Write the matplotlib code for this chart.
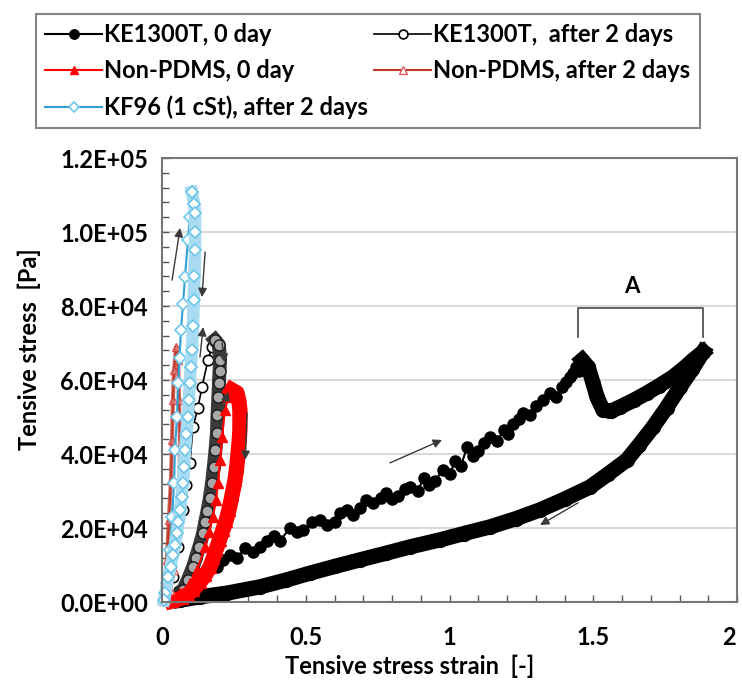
import numpy as np
import matplotlib
matplotlib.use("Agg")
import matplotlib.pyplot as plt
import matplotlib.transforms as mtransforms
from matplotlib.ticker import FuncFormatter, MultipleLocator

plt.rcParams['font.family'] = ['Lato', 'DejaVu Sans']
plt.rcParams['font.weight'] = 'bold'

# KE1300T, 0 day (strain [-], stress [kPa])
ke0_rise_x = [0.03, 0.06, 0.09, 0.12, 0.143, 0.165, 0.19, 0.212, 0.235, 0.26, 0.29, 0.315, 0.341,
              0.365, 0.39, 0.41, 0.445, 0.47, 0.49, 0.52, 0.55, 0.575, 0.60, 0.62, 0.643, 0.665,
              0.69, 0.71, 0.734, 0.76, 0.78, 0.80, 0.82, 0.845, 0.863, 0.89, 0.91, 0.93, 0.95,
              0.977, 1.00, 1.02, 1.04, 1.061, 1.08, 1.10, 1.12, 1.141, 1.165, 1.19, 1.205, 1.22,
              1.24, 1.256, 1.28, 1.30, 1.325, 1.35, 1.37, 1.39, 1.405, 1.419, 1.43, 1.44, 1.45, 1.461]
ke0_rise_y = [1.0, 3.0, 5.5, 7.0, 7.8, 10.0, 9.5, 11.4, 12.8, 12.0, 14.5, 13.5, 14.9,
              16.5, 17.8, 16.5, 20.0, 18.8, 19.5, 21.5, 22.2, 20.8, 21.5, 24.0, 24.9, 23.5,
              25.5, 27.5, 26.8, 28.0, 29.5, 27.8, 28.6, 30.5, 31.1, 30.0, 33.5, 31.5, 32.8,
              35.7, 34.5, 38.0, 36.8, 41.9, 39.5, 40.8, 43.0, 44.6, 43.5, 46.5, 45.5, 48.0,
              49.5, 51.1, 50.5, 53.0, 54.5, 56.5, 55.5, 58.0, 59.5, 60.8, 62.0, 63.5, 62.5, 65.4]
ke0_dip_x = [1.461, 1.482, 1.50, 1.513, 1.534, 1.56, 1.593, 1.64, 1.687, 1.73, 1.777, 1.82, 1.847, 1.882]
ke0_dip_y = [65.4, 63.5, 59.0, 55.4, 51.9, 51.5, 52.7, 54.5, 56.5, 58.5, 60.8, 63.5, 65.4, 67.6]
ke0_fall_x = [1.882, 1.845, 1.802, 1.755, 1.708, 1.66, 1.617, 1.55, 1.489, 1.40, 1.315, 1.23, 1.141,
              1.05, 0.967, 0.863, 0.78, 0.689, 0.60, 0.515, 0.43, 0.341, 0.226, 0.132, 0.063]
ke0_fall_y = [67.6, 63.0, 58.1, 52.5, 47.3, 42.5, 38.4, 34.5, 31.1, 27.8, 24.9, 22.5, 20.3,
              18.5, 16.8, 14.9, 13.2, 11.4, 9.6, 7.8, 5.9, 4.1, 2.4, 1.4, 0.5]

# KE1300T, after 2 days
ke2_rise_x = [0.010, 0.021, 0.038, 0.056, 0.073, 0.085, 0.097, 0.108, 0.125, 0.139, 0.160, 0.174, 0.184]
ke2_rise_y = [0.5, 1.9, 6.8, 15.0, 24.9, 31.5, 37.6, 47.3, 52.5, 58.1, 65.4, 68.9, 70.8]
ke2_fall_x = [0.184, 0.198, 0.202, 0.200, 0.198, 0.196, 0.193, 0.191, 0.186, 0.180, 0.174, 0.166,
              0.158, 0.150, 0.143, 0.130, 0.118, 0.108, 0.090, 0.073, 0.055, 0.035]
ke2_fall_y = [70.8, 69.5, 65.4, 62.5, 59.2, 55.5, 50.5, 45.7, 41.0, 36.5, 32.2, 28.0,
              24.5, 21.5, 18.6, 15.0, 12.0, 9.5, 6.0, 3.2, 1.5, 0.5]

# Non-PDMS, 0 day
np0_rise_x = [0.035, 0.063, 0.097, 0.122, 0.150, 0.165, 0.177, 0.188, 0.195, 0.202, 0.209, 0.219, 0.230, 0.243]
np0_rise_y = [0.3, 2.4, 5.1, 8.6, 14.9, 19.0, 23.0, 27.5, 32.2, 38.4, 44.6, 51.9, 55.4, 57.3]
np0_fall_x = [0.243, 0.261, 0.268, 0.271, 0.271, 0.268, 0.264, 0.260, 0.254, 0.244, 0.233, 0.223,
              0.212, 0.200, 0.188, 0.178, 0.167, 0.150, 0.132, 0.108, 0.090, 0.070, 0.035]
np0_fall_y = [57.3, 56.5, 54.0, 51.9, 46.5, 43.0, 39.7, 36.5, 33.0, 29.0, 24.9, 22.0,
              19.5, 16.8, 14.1, 11.8, 9.5, 7.2, 5.4, 3.2, 2.0, 1.1, 0.3]

# Non-PDMS, after 2 days
np2_x = [0.003, 0.010, 0.017, 0.024, 0.031, 0.035, 0.038, 0.042, 0.049,
         0.056, 0.059, 0.063, 0.059, 0.052, 0.042, 0.028, 0.014]
np2_y = [0.3, 3.2, 11.4, 22.2, 33.0, 43.8, 54.6, 62.7, 68.9,
         65.4, 54.6, 41.1, 27.6, 16.8, 8.6, 3.2, 0.5]

# KF96 (1 cSt), after 2 days
kf_rise_x = [0.007, 0.017, 0.028, 0.035, 0.042, 0.045, 0.052, 0.056, 0.061, 0.066, 0.073, 0.080,
             0.090, 0.097, 0.104]
kf_rise_y = [0.5, 5.1, 14.1, 23.0, 32.2, 41.1, 50.0, 59.2, 66.0, 73.5, 80.5, 87.8,
             97.8, 104.1, 110.8]
kf_fall_x = [0.104, 0.112, 0.115, 0.115, 0.115, 0.113, 0.110, 0.108, 0.104, 0.100, 0.097, 0.093,
             0.090, 0.085, 0.080, 0.077, 0.073, 0.068, 0.063, 0.057, 0.052, 0.045, 0.038, 0.030,
             0.021, 0.012, 0.007]
kf_fall_y = [110.8, 107.5, 105.1, 100.0, 95.1, 88.0, 81.6, 74.5, 68.1, 63.5, 59.2, 54.5,
             50.0, 45.5, 41.1, 36.5, 32.2, 28.5, 24.9, 21.5, 18.6, 15.5, 12.7, 9.5,
             6.8, 2.4, 0.5]

# arrows: (tail_x, tail_y, head_x, head_y) in data units (stress in kPa)
arrows = [(0.035, 87.0, 0.063, 101.1), (0.150, 94.6, 0.139, 82.4), (0.132, 66.2, 0.143, 74.3),
          (0.209, 70.0, 0.219, 64.6), (0.212, 51.9, 0.230, 56.8), (0.296, 51.1, 0.289, 38.4),
          (0.793, 37.6, 0.974, 43.8), (1.447, 26.8, 1.315, 20.8)]

def pa(v):
    return np.array(v) * 1000.0

fig = plt.figure(figsize=(7.42, 6.87), dpi=100)
ax = fig.add_axes([162 / 742, 1 - 602 / 687, 575 / 742, 444 / 687])

blue_line = '#2f9fd6'
blue_edge = '#6cc6ea'
dark_red = '#c0392b'

# KE1300T, 0 day
h_ke0, = ax.plot(ke0_rise_x, pa(ke0_rise_y), '-o', color='black', lw=1.5, ms=8,
                 clip_on=False, label='KE1300T, 0 day')
ax.plot(ke0_dip_x, pa(ke0_dip_y), '-o', color='black', lw=11, ms=10, clip_on=False)
ax.plot(ke0_fall_x, pa(ke0_fall_y), '-o', color='black', lw=11, ms=10, clip_on=False)

# KE1300T, after 2 days
h_ke2, = ax.plot(ke2_rise_x, pa(ke2_rise_y), '-o', color='black', mfc='white', mec='black',
                 lw=1.2, ms=7.5, mew=1.2, clip_on=False, label='KE1300T,  after 2 days')
ax.plot(ke2_fall_x, pa(ke2_fall_y), '-', color='#3a3a3a', lw=10, clip_on=False)
ax.plot(ke2_fall_x, pa(ke2_fall_y), 'o', mfc='#a8a8a8', mec='#1a1a1a', ms=8, mew=1.0, clip_on=False)

# Non-PDMS, 0 day
h_np0, = ax.plot(np0_rise_x, pa(np0_rise_y), '-^', color='red', lw=1.5, ms=7, clip_on=False,
                 label='Non-PDMS, 0 day')
ax.plot(np0_fall_x, pa(np0_fall_y), '-^', color='red', lw=11, ms=9, clip_on=False)

# Non-PDMS, after 2 days
h_np2, = ax.plot(np2_x, pa(np2_y), '-^', color=dark_red, mfc='white', mec='#e8585f', lw=1.5,
                 ms=6, mew=1.0, clip_on=False, label='Non-PDMS, after 2 days')
ax.plot(np2_x, pa(np2_y), '-', color=dark_red, lw=3, alpha=0.7, clip_on=False)

# KF96 (1 cSt), after 2 days
h_kf, = ax.plot(kf_rise_x, pa(kf_rise_y), '-D', color=blue_line, mfc='white', mec=blue_edge,
                lw=1.5, ms=6, mew=1.2, clip_on=False, label='KF96 (1 cSt), after 2 days')
ax.plot(kf_fall_x, pa(kf_fall_y), '-', color='#a9dcf2', lw=9, clip_on=False)
ax.plot(kf_fall_x, pa(kf_fall_y), 'D', mfc='white', mec=blue_edge, ms=6, mew=1.2, clip_on=False)

for tx, ty, hx, hy in arrows:
    ax.annotate('', xy=(hx, hy * 1000), xytext=(tx, ty * 1000),
                arrowprops=dict(arrowstyle='-|>', color='#3a3a3a', lw=1.0, mutation_scale=13,
                                shrinkA=0, shrinkB=0))

# bracket "A"
ax.plot([1.447, 1.447, 1.882, 1.882], [71.6e3, 79.5e3, 79.5e3, 71.6e3], color='#555555', lw=1.3)
ax.text(1.635, 82.5e3, 'A', ha='center', va='bottom', fontsize=16, fontweight='bold')

ax.set_xlim(0, 2)
ax.set_ylim(0, 1.2e5)
ax.xaxis.set_major_locator(MultipleLocator(0.5))
ax.xaxis.set_minor_locator(MultipleLocator(0.1))
ax.yaxis.set_major_locator(MultipleLocator(2e4))
ax.yaxis.set_minor_locator(MultipleLocator(4e3))
ax.xaxis.set_major_formatter(FuncFormatter(lambda v, p: f'{v:g}'))
ax.yaxis.set_major_formatter(FuncFormatter(lambda v, p: f'{v:.1E}'))
ax.tick_params(axis='both', which='both', direction='in', color='#555555', width=1.0)
ax.tick_params(axis='x', which='both', length=5, pad=17, labelsize=17)
ax.tick_params(axis='y', which='both', length=5, pad=10, labelsize=17)
ax.tick_params(top=False, right=False)

ax.grid(axis='y', color='#d9d9d9', lw=1.5)
ax.set_axisbelow(True)
for s in ax.spines.values():
    s.set_color('#777777')
    s.set_linewidth(1.5)

ax.set_xlabel('Tensive stress strain  [-]', fontsize=17, fontweight='bold')
ax.set_ylabel('Tensive stress  [Pa]', fontsize=17, fontweight='bold')
ax.xaxis.set_label_coords(0.431, -0.118)
ax.yaxis.set_label_coords(-0.21, 0.57)

handles = [h_ke0, h_np0, h_kf, h_ke2, h_np2]
leg = fig.legend(handles, [h.get_label() for h in handles],
                 loc='upper left', bbox_to_anchor=(36 / 742, 1 - 128 / 687, 664 / 742, 114 / 687),
                 mode='expand', ncol=2, fontsize=17, frameon=True, fancybox=False,
                 handlelength=2.4, handletextpad=0.1, labelspacing=0.55, borderaxespad=0,
                 borderpad=0.4, markerscale=0.85)
leg.get_frame().set_edgecolor('#666666')
leg.get_frame().set_linewidth(1.5)

# nudge the last x tick label ("2") a few pixels left so it stays inside the picture
fig.canvas.draw()
shift = mtransforms.ScaledTranslation(-6 / 72, 0, fig.dpi_scale_trans)
for tick in ax.xaxis.get_major_ticks():
    if abs(tick.get_loc() - 2) < 1e-9:
        tick.label1.set_transform(tick.label1.get_transform() + shift)

fig.savefig('out.png', dpi=100)
